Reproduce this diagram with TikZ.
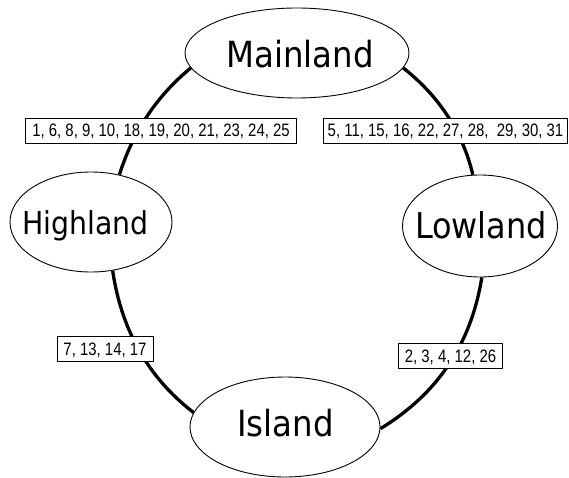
\documentclass[tikz,border=0pt]{standalone}
\usepackage{fontspec}
\usetikzlibrary{shapes.geometric}
\newfontfamily\regionfont[FakeStretch=0.9]{DejaVu Sans}
\newfontfamily\numfont[FakeStretch=0.83]{Liberation Sans}
\pgfdeclarelayer{back}
\pgfdeclarelayer{mid}
\pgfsetlayers{back,mid,main}
\begin{document}
\begin{tikzpicture}[x=1pt,y=-1pt,
  region/.style={draw, ellipse, line width=0.9pt, fill=white, inner sep=0pt},
  rtext/.style={inner sep=0pt, text depth=0pt},
  conn/.style={line width=3.3pt},
  nums/.style={draw, fill=white, line width=0.9pt, font=\numfont\fontsize{18}{20}\selectfont,
    inner xsep=6.5pt, inner ysep=6pt, text height=13pt, text depth=0pt}]
\useasboundingbox (0,0) rectangle (569,478);
\begin{pgfonlayer}{back}
\fill[white] (0,0) rectangle (569,478);
\end{pgfonlayer}

% regions
\node[region, minimum width=224pt, minimum height=90pt] (M) at (297,53) {};
\node[region, minimum width=162pt, minimum height=100pt] (H) at (91,222) {};
\node[region, minimum width=155pt, minimum height=102pt] (L) at (480,226) {};
\node[region, minimum width=190pt, minimum height=100pt] (I) at (285,427) {};

\node[rtext, font=\regionfont\fontsize{36}{40}\selectfont, text height=26.2pt] (Mt) at (300,54) {Mainland};
\node[rtext, font=\regionfont\fontsize{31.5}{36}\selectfont, text height=23pt] (Ht) at (85.5,222.5) {Highland};
\node[rtext, font=\regionfont\fontsize{35.5}{40}\selectfont, text height=25.9pt] (Lt) at (481,226) {Lowland};
\node[rtext, font=\regionfont\fontsize{36}{40}\selectfont, text height=26.2pt] (It) at (285.5,423) {Island};

% connectors
\begin{pgfonlayer}{mid}
\draw[conn] (M.188) .. controls (157.3,95.6) and (133.3,130.6) .. (H.59);
\draw[conn] (M.352) .. controls (438.5,95.6) and (462.9,132.2) .. (L.98);
\draw[conn] (H.294) .. controls (121.4,329.9) and (148,377.5) .. (I.171);
\draw[conn] (L.272) .. controls (471.1,344.5) and (437.1,394.1) .. (I.359);
\end{pgfonlayer}

% labels
\node[nums] (n1) at (161,130.5) {1, 6, 8, 9, 10, 18, 19, 20, 21, 23, 24, 25};
\node[nums, inner xsep=4pt] (n2) at (445.5,130.5) {5, 11, 15, 16, 22, 27, 28,~~29, 30, 31};
\node[nums] (n3) at (105,349) {7, 13, 14, 17};
\node[nums] (n4) at (450.5,355.5) {2, 3, 4, 12, 26};
\end{tikzpicture}
\end{document}
